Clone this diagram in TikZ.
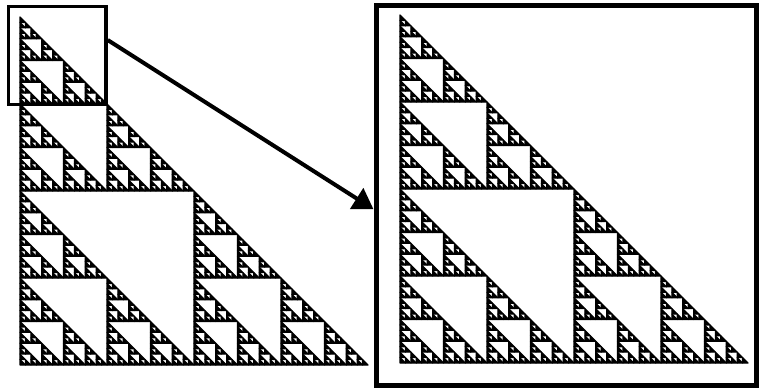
\documentclass[tikz,border=0pt]{standalone}
\usepackage{tikz}
\usetikzlibrary{arrows.meta}

% right-angled gasket: depth, corner x, corner y, side
\newcommand\gasket[4]{%
  \ifnum#1>0
    \begingroup
    \pgfmathsetmacro\gh{#4/2}%
    \pgfmathsetmacro\gx{#2+\gh}%
    \pgfmathsetmacro\gy{#3-\gh}%
    \pgfmathtruncatemacro\gd{#1-1}%
    \edef\gnext{\noexpand\gasket{\gd}{#2}{#3}{\gh}%
      \noexpand\gasket{\gd}{\gx}{#3}{\gh}%
      \noexpand\gasket{\gd}{#2}{\gy}{\gh}}%
    \gnext
    \endgroup
  \else
    \filldraw[piece] (#2,#3) -- ++(#4,0) -- ++(-#4,-#4) -- cycle;
  \fi}

\begin{document}
\begin{tikzpicture}[x=1pt,y=-1pt,>={Triangle[length=20pt,width=24pt]},
    piece/.style={fill=black,draw=black,line width=1.2pt,line join=round},
    box/.style={draw=black,inner sep=0pt}]
  \useasboundingbox (0,0) rectangle (759,389);
  % whole triangle and its magnified corner
  \gasket{6}{20}{365}{348}
  \gasket{6}{400}{363}{348}
  \node[box,line width=3.5pt,minimum width=97.5pt,minimum height=98pt]
    (zoom) at (57.25,55.5) {};
  \node[box,line width=5pt,minimum size=380pt] (view) at (566,195.75) {};
  \draw[->,line width=4pt] (zoom.17) -- (view.184);
\end{tikzpicture}
\end{document}
